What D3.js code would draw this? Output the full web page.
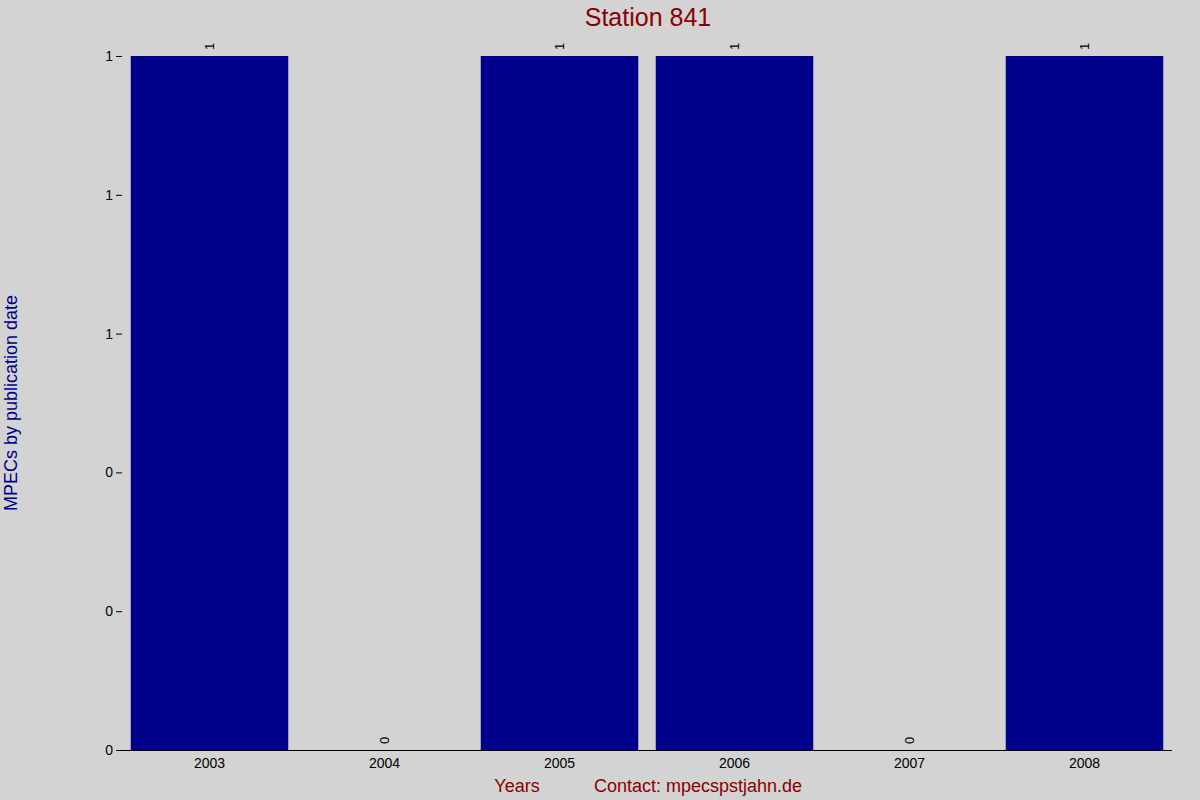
<!DOCTYPE html>
<html><head><meta charset="utf-8">
<script src="https://cdn.jsdelivr.net/npm/d3@7"></script>
<style>body{margin:0;background:#d3d3d3;font-family:"Liberation Sans",Arial,sans-serif}</style>
</head><body><svg id="c" width="1200" height="800"></svg>
<script>
var years = ['2003','2004','2005','2006','2007','2008'];
var counts = [1,0,1,1,0,1];
var yTicks = [0,0.2,0.4,0.6,0.8,1];

var svg = d3.select('#c');
svg.append('rect').attr('width',1200).attr('height',800).attr('fill','#d3d3d3');

var x = d3.scaleBand().domain(years).range([122,1172]).paddingInner(0.1).paddingOuter(0.05);
var y = d3.scaleLinear().domain([0,1]).range([750,56]);

svg.selectAll('.bar').data(counts).enter().append('rect')
    .attr('x',function(d,i){ return x(years[i]); })
    .attr('y',function(d){ return y(d); })
    .attr('width',x.bandwidth())
    .attr('height',function(d){ return 750-y(d); })
    .attr('fill','#00008b');

// value labels, rotated
svg.selectAll('.val').data(counts).enter().append('text')
    .attr('transform',function(d,i){ return 'translate('+(x(years[i])+x.bandwidth()/2+4)+','+(y(d)-6)+') rotate(-90)'; })
    .attr('font-size',13).text(function(d){ return d; });

var ya = svg.append('g').attr('transform','translate(122,0)')
    .call(d3.axisLeft(y).tickValues(yTicks).tickFormat(d3.format('.0f')).tickSizeOuter(0));
ya.select('.domain').remove();
ya.selectAll('text').attr('font-size',14).attr('fill','#000').attr('font-family','Liberation Sans, Arial, sans-serif');

var xa = svg.append('g').attr('transform','translate(0,750)')
    .call(d3.axisBottom(x).tickSize(0).tickPadding(8));
xa.select('.domain').attr('d','M122,0.5H1172');
xa.selectAll('text').attr('font-size',14).attr('fill','#000').attr('font-family','Liberation Sans, Arial, sans-serif');

svg.append('text').attr('x',648).attr('y',26).attr('text-anchor','middle')
    .attr('font-size',25).attr('fill','#8b0000').text('Station 841');
svg.append('text').attr('x',517).attr('y',792).attr('text-anchor','middle')
    .attr('font-size',18).attr('fill','#8b0000').text('Years');
svg.append('text').attr('x',698).attr('y',792).attr('text-anchor','middle')
    .attr('font-size',18).attr('fill','#8b0000').text('Contact: mpecspstjahn.de');
svg.append('text').attr('transform','translate(17,403) rotate(-90)').attr('text-anchor','middle')
    .attr('font-size',18).attr('fill','#00008b').text('MPECs by publication date');
</script></body></html>
